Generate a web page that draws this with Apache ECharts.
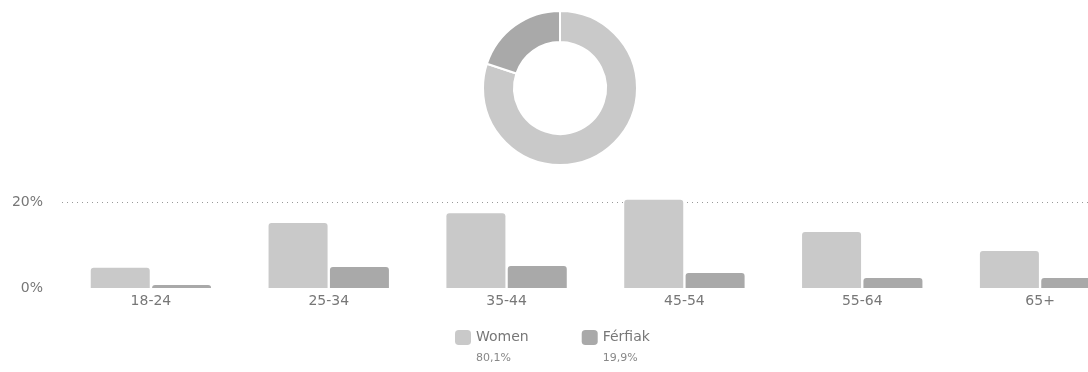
<!DOCTYPE html>
<html>
<head>
<meta charset="utf-8">
<script src="https://cdn.jsdelivr.net/npm/echarts@6/dist/echarts.min.js"></script>
<style>
html,body{margin:0;padding:0;background:#fff;overflow:hidden;width:1088px;height:372px;}
#chart{width:1129px;height:372px;}
</style>
</head>
<body>
<div id="chart"></div>
<script>
const categories = ['18-24', '25-34', '35-44', '45-54', '55-64', '65+'];
const seriesNames = ['Women', 'Férfiak'];
const womenValues = [4.7, 15.1, 17.4, 20.5, 13.0, 8.6];
const menValues = [0.7, 4.9, 5.1, 3.5, 2.3, 2.3];
const shareValues = [80.1, 19.9];
const shareLabels = ['80,1%', '19,9%'];
const yTicks = [0, 20];

const colors = ['#c9c9c9', '#a9a9a9'];
const FONT = '"DejaVu Sans", sans-serif';
const chart = echarts.init(document.getElementById('chart'), null, {renderer: 'canvas'});

const option = {
  animation: false,
  color: colors,
  textStyle: {fontFamily: FONT},
  legend: {
    data: seriesNames,
    left: 450,
    top: 325,
    itemWidth: 16,
    itemHeight: 15,
    itemGap: 53,
    icon: 'roundRect',
    formatter: function (name) {
      const i = seriesNames.indexOf(name);
      return '{a|' + name + '}\n{b|' + shareLabels[i] + '}';
    },
    textStyle: {
      padding: [21, 0, 0, 0],
      rich: {
        a: {fontSize: 14, color: '#777', lineHeight: 21, fontFamily: FONT},
        b: {fontSize: 11, color: '#888', lineHeight: 21, fontFamily: FONT}
      }
    }
  },
  grid: {left: 62, right: 0, top: 202, bottom: 84, containLabel: false},
  xAxis: {
    type: 'category',
    data: categories,
    axisLine: {show: false},
    axisTick: {show: false},
    axisLabel: {color: '#777', fontSize: 14, margin: 6, fontFamily: FONT}
  },
  yAxis: {
    type: 'value',
    min: yTicks[0],
    max: yTicks[1],
    interval: yTicks[1] - yTicks[0],
    axisLine: {show: false},
    axisTick: {show: false},
    axisLabel: {color: '#777', fontSize: 14, margin: 19, formatter: '{value}%', fontFamily: FONT},
    splitLine: {show: true, showMinLine: false, lineStyle: {type: [1, 4], color: '#999', width: 1}}
  },
  series: [
    {
      name: seriesNames[0], type: 'bar', data: womenValues, barWidth: 59, barGap: '4%', clip: false,
      itemStyle: {color: colors[0], borderRadius: [3, 3, 0, 0]}
    },
    {
      name: seriesNames[1], type: 'bar', data: menValues, barWidth: 59, barGap: '4%', clip: false,
      itemStyle: {color: colors[1], borderRadius: [3, 3, 0, 0]}
    },
    {
      type: 'pie',
      center: [560, 88],
      radius: [46, 77],
      startAngle: 90,
      clockwise: true,
      label: {show: false},
      labelLine: {show: false},
      silent: true,
      itemStyle: {borderColor: '#fff', borderWidth: 2},
      data: seriesNames.map((n, i) => ({name: n, value: shareValues[i], itemStyle: {color: colors[i]}}))
    }
  ]
};
chart.setOption(option);
</script>
</body>
</html>
